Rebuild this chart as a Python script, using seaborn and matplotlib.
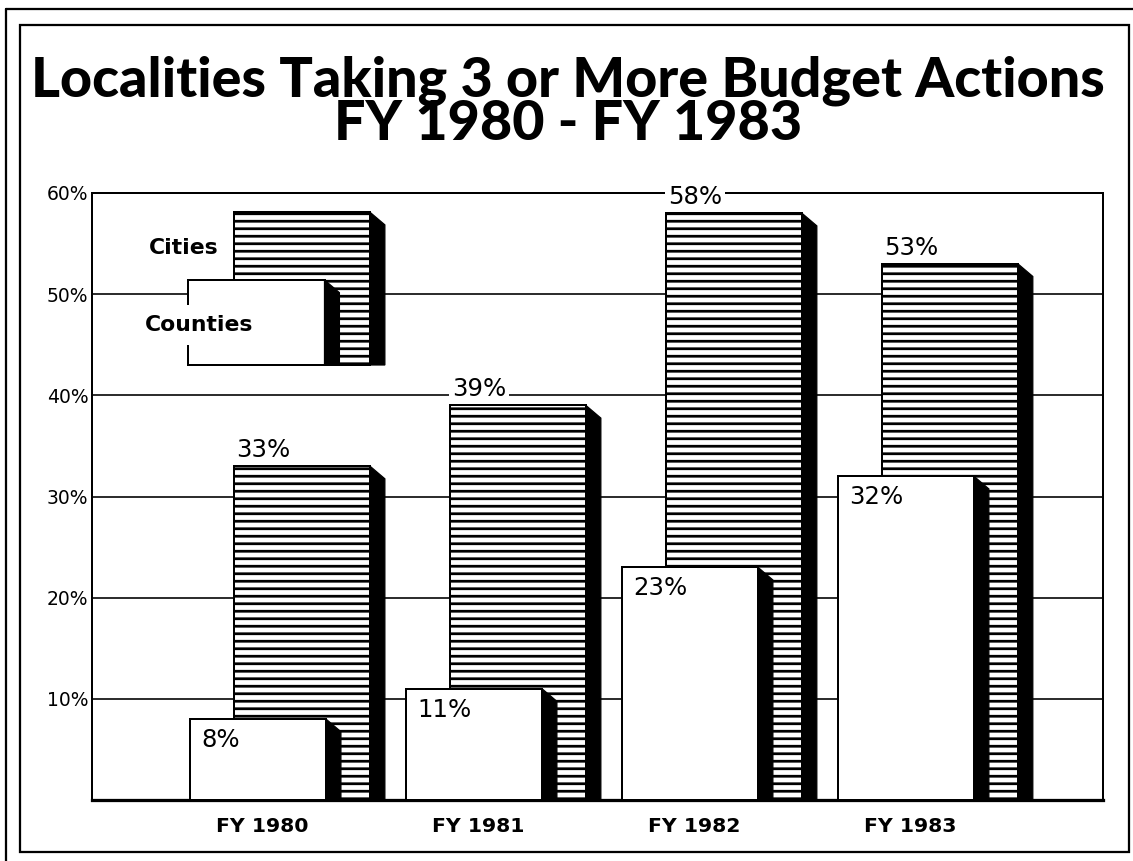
import numpy as np
import pandas as pd
import matplotlib
matplotlib.use("Agg")
import matplotlib.pyplot as plt
import seaborn as sns
from matplotlib import font_manager as fm
from matplotlib.textpath import TextPath
from matplotlib.patches import Polygon, Rectangle
from matplotlib.lines import Line2D

# ---------------- data ----------------
categories = ["FY 1980", "FY 1981", "FY 1982", "FY 1983"]
cities = [33, 39, 58, 53]
counties = [8, 11, 23, 32]
ytick_values = [10, 20, 30, 40, 50, 60]
ytick_labels = ["10%", "20%", "30%", "40%", "50%", "60%"]
title_lines = ["Localities Taking 3 or More Budget Actions", "FY 1980 - FY 1983"]
legend_labels = ["Cities", "Counties"]

# ---------------- style ----------------
sns.set_theme(style="white")
plt.rcParams["font.family"] = ["DejaVu Sans"]
plt.rcParams["hatch.linewidth"] = 2.2
plt.rcParams["hatch.color"] = "black"

DPI = 90
W, H = 1133, 861
fig = plt.figure(figsize=(W / DPI, H / DPI), dpi=DPI, facecolor="white")
ax = fig.add_axes([92 / W, 1 - 800 / H, (1103 - 92) / W, (800 - 193) / H])

BAR_W = 0.63
OFF_CITY = 0.185
OFF_CNTY = -0.0185
DEPTH = 0.069
DROP = 1.25
EDGE_LW = 1.6

idx = np.arange(len(categories))
df = pd.DataFrame({
    "pos_city": idx + OFF_CITY,
    "pos_cnty": idx + OFF_CNTY,
    "cities": cities,
    "counties": counties,
})


def add_side(xc, top, bottom, z):
    xr = xc + BAR_W / 2
    poly = Polygon([(xr, top), (xr + DEPTH, top - DROP), (xr + DEPTH, bottom), (xr, bottom)],
                   closed=True, facecolor="black", edgecolor="black", lw=1.0, zorder=z)
    ax.add_patch(poly)


# Cities bars (back)
n0 = len(ax.patches)
sns.barplot(data=df, x="pos_city", y="cities", native_scale=True, width=BAR_W,
            color="white", saturation=1, edgecolor="black", linewidth=EDGE_LW,
            errorbar=None, orient="x", ax=ax, zorder=2)
for p in ax.patches[n0:]:
    p.set_hatch("--")
for xc, v in zip(df["pos_city"], df["cities"]):
    add_side(xc, v, 0, 2.1)

# Counties bars (front)
sns.barplot(data=df, x="pos_cnty", y="counties", native_scale=True, width=BAR_W,
            color="white", saturation=1, edgecolor="black", linewidth=EDGE_LW,
            errorbar=None, orient="x", ax=ax, zorder=3)
for xc, v in zip(df["pos_cnty"], df["counties"]):
    add_side(xc, v, 0, 3.1)

# ---------------- axes ----------------
ax.set_xlim(-0.787, 3.894)
ax.set_ylim(0, 60)
ax.set_yticks(ytick_values, ytick_labels)
ax.set_xticks(idx, categories)
ax.set_xlabel("")
ax.set_ylabel("")
ax.yaxis.grid(True, color="black", lw=1.3)
ax.xaxis.grid(False)
ax.set_axisbelow(True)
ax.tick_params(axis="y", length=0, pad=3, labelsize=15, labelcolor="black")
ax.tick_params(axis="x", length=0, pad=14, labelsize=16.3, labelcolor="black")
for lab in ax.get_xticklabels():
    lab.set_fontweight("bold")
for s in ax.spines.values():
    s.set_visible(True)
    s.set_color("black")
    s.set_linewidth(1.6)
ax.spines["bottom"].set_linewidth(2.6)

# ---------------- value labels ----------------
for xc, v in zip(df["pos_city"], df["cities"]):
    ax.annotate(f"{v}%", xy=(xc - BAR_W / 2, v), xytext=(2, 9), textcoords="offset pixels",
                ha="left", va="baseline", fontsize=19.5, color="black", zorder=6,
                bbox=dict(boxstyle="square,pad=0.12", fc="white", ec="none"))
for xc, v in zip(df["pos_cnty"], df["counties"]):
    ax.annotate(f"{v}%", xy=(xc - BAR_W / 2, v), xytext=(11, -9), textcoords="offset pixels",
                ha="left", va="top", fontsize=19.5, color="black", zorder=6)

# ---------------- legend (mini bars) ----------------
LEG_BOTTOM = 43
LEG_TOPS = [58.1, 51.4]
leg_city = Rectangle((OFF_CITY - BAR_W / 2, LEG_BOTTOM), BAR_W, LEG_TOPS[0] - LEG_BOTTOM,
                     facecolor="white", edgecolor="black", lw=EDGE_LW, hatch="--", zorder=2)
ax.add_patch(leg_city)
add_side(OFF_CITY, LEG_TOPS[0], LEG_BOTTOM, 2.1)
leg_cnty = Rectangle((OFF_CNTY - 0.007 - BAR_W / 2, LEG_BOTTOM), BAR_W, LEG_TOPS[1] - LEG_BOTTOM,
                     facecolor="white", edgecolor="black", lw=EDGE_LW, zorder=3)
ax.add_patch(leg_cnty)
add_side(OFF_CNTY - 0.007, LEG_TOPS[1], LEG_BOTTOM, 3.1)
ax.text((218 - 92) / 1011, (800 - 248) / 607, legend_labels[0], transform=ax.transAxes,
        ha="right", va="center", fontsize=17.5, fontweight="bold", color="black", zorder=6)
ax.text((145 - 92) / 1011, (800 - 325) / 607, legend_labels[1], transform=ax.transAxes,
        ha="left", va="center", fontsize=17.5, fontweight="bold", color="black", zorder=6,
        bbox=dict(boxstyle="square,pad=0.45", fc="white", ec="none"))


# ---------------- title ----------------
def _weight(f):
    try:
        return int(f.weight)
    except (TypeError, ValueError):
        return {"bold": 700, "heavy": 800, "black": 900, "extra bold": 800,
                "semibold": 600, "demibold": 600}.get(str(f.weight).lower(), 400)


TARGET_W = 1068.0   # px, width of first title line
TARGET_CAP = 41.0   # px, cap height of title
LINE_GAP = 35.3     # nominal gap (matplotlib adds its own line metrics)
PT2PX = DPI / 72.0
ALLOWED = {"noto sans", "noto sans condensed", "noto sans semicondensed",
           "noto sans extracondensed", "noto sans display", "roboto", "roboto condensed",
           "open sans", "open sans condensed", "open sans semicondensed", "lato", "inter",
           "liberation sans", "liberation sans narrow", "dejavu sans"}


def pick_title_font():
    """Pick the installed heavy face whose proportions best match the title."""
    best = None
    seen = set()
    for f in fm.fontManager.ttflist:
        if f.fname in seen or f.name.lower() not in ALLOWED:
            continue
        seen.add(f.fname)
        if "ital" in f.style.lower() or "oblique" in f.style.lower():
            continue
        fl = f.fname.lower()
        if "italic" in fl or "oblique" in fl:
            continue
        w = _weight(f)
        if w < 700:
            continue
        try:
            prop = fm.FontProperties(fname=f.fname)
            cap = TextPath((0, 0), "H", prop=prop, size=1).get_extents().height
            wid = TextPath((0, 0), title_lines[0], prop=prop, size=1).get_extents().width
        except Exception:
            continue
        if cap <= 0 or wid <= 0:
            continue
        size = TARGET_CAP / (cap * PT2PX)
        width_px = wid * size * PT2PX
        score = abs(width_px - TARGET_W) / TARGET_W + (0.0 if w >= 800 else 0.04)
        if best is None or score < best[0]:
            best = (score, f.fname, cap, wid)
    if best is None:
        prop = fm.FontProperties(family="DejaVu Sans", weight="bold")
        cap = TextPath((0, 0), "H", prop=prop, size=1).get_extents().height
        wid = TextPath((0, 0), title_lines[0], prop=prop, size=1).get_extents().width
        return prop, cap, wid
    return fm.FontProperties(fname=best[1]), best[2], best[3]


tprop, tcap, twid = pick_title_font()
fs = min(TARGET_CAP / (tcap * PT2PX), TARGET_W / (twid * PT2PX))
asc = max(TextPath((0, 0), "l", prop=tprop, size=1).get_extents().ymax,
          TextPath((0, 0), title_lines[1], prop=tprop, size=1).get_extents().ymax)
lsp = LINE_GAP / (asc * fs * PT2PX)
fig.text(568 / W, 1 - 55 / H, "\n".join(title_lines), ha="center", va="top",
         multialignment="center", linespacing=lsp,
         fontproperties=tprop, fontsize=fs, color="black")

# ---------------- page frame ----------------
fig.patches.append(Rectangle((20 / W, 1 - 852 / H), (1129 - 20) / W, (852 - 25) / H,
                             transform=fig.transFigure, fill=False, ec="black", lw=1.8))
fig.lines.append(Line2D([6 / W, 1], [1 - 9 / H, 1 - 9 / H], transform=fig.transFigure,
                        color="black", lw=1.8))
fig.lines.append(Line2D([6 / W, 6 / W], [1 - 9 / H, 0], transform=fig.transFigure,
                        color="black", lw=1.8))

fig.savefig("out.png", dpi=DPI, facecolor="white")
